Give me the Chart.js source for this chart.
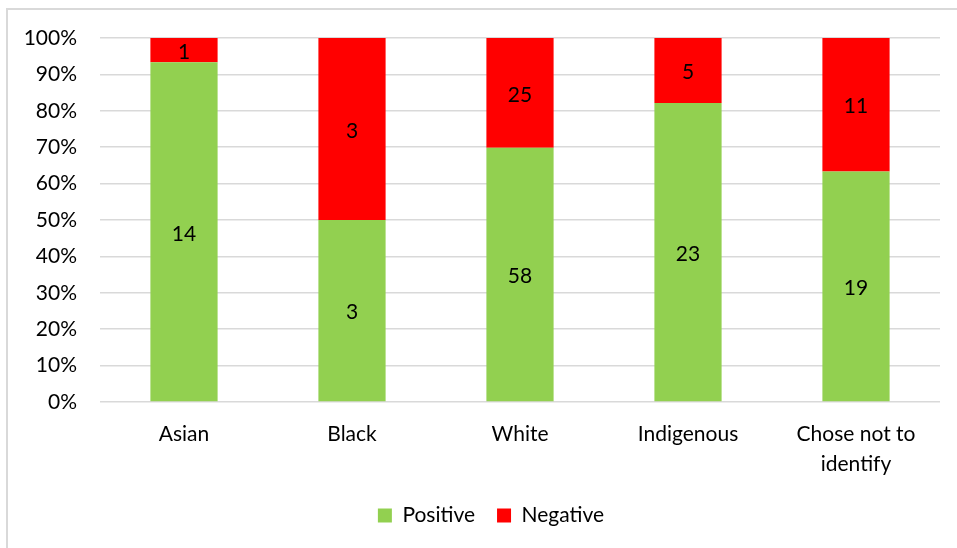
<!DOCTYPE html>
<html>
<head>
<meta charset="utf-8">
<title>Responses by ethnicity</title>
<script src="https://cdn.jsdelivr.net/npm/chart.js@4/dist/chart.umd.min.js"></script>
<style>
  html, body { margin: 0; padding: 0; background: #fff; overflow: hidden; }
  #frame {
    position: absolute; left: 6px; top: 8px; width: 1000px; height: 600px;
    border: 2px solid #d9d9d9; box-sizing: border-box;
  }
  #wrap { position: absolute; left: 0; top: 0; width: 957px; height: 548px; }
</style>
</head>
<body>
<div id="frame"></div>
<div id="wrap"><canvas id="chart" width="957" height="548"></canvas></div>
<script>
const groups = ['Asian', 'Black', 'White', 'Indigenous', ['Chose not to', 'identify']];
const positive = [14, 3, 58, 23, 19];
const negative = [1, 3, 25, 5, 11];
const yTicks = [0, 10, 20, 30, 40, 50, 60, 70, 80, 90, 100];

const green = '#92D050';
const red = '#FF0000';
const gridColor = '#d9d9d9';
const font = 'Lato';
const fontSize = 21;

// stacked to 100%: each bar is its share of the group total
const share = (part) => part.map((v, i) => (100 * v) / (positive[i] + negative[i]));

// print the raw counts in the middle of each segment
const countLabels = {
  id: 'countLabels',
  afterDatasetsDraw(chart) {
    const ctx = chart.ctx;
    ctx.save();
    ctx.fillStyle = '#000';
    ctx.font = fontSize + 'px ' + font;
    ctx.textAlign = 'center';
    ctx.textBaseline = 'middle';
    chart.data.datasets.forEach((ds, di) => {
      chart.getDatasetMeta(di).data.forEach((bar, i) => {
        const mid = (bar.y + bar.base) / 2;
        ctx.fillText(String(ds.counts[i]), bar.x, mid + 2);
      });
    });
    ctx.restore();
  }
};

// centre the legend under the plot area rather than the whole canvas
const legendShift = {
  id: 'legendShift',
  afterLayout(chart) {
    const lg = chart.legend;
    if (!lg) return;
    lg.left += 21;
    lg.right += 21;
    lg.adjustHitBoxes();
  }
};

new Chart(document.getElementById('chart'), {
  type: 'bar',
  data: {
    labels: groups,
    datasets: [
      { label: 'Positive', data: share(positive), counts: positive, backgroundColor: green },
      { label: 'Negative', data: share(negative), counts: negative, backgroundColor: red }
    ]
  },
  options: {
    responsive: false,
    animation: false,
    barPercentage: 0.4,
    categoryPercentage: 1,
    layout: { padding: { top: 38, right: 17, left: 0, bottom: 12 } },
    scales: {
      x: {
        stacked: true,
        grid: { display: false, drawTicks: false },
        border: { display: false },
        ticks: {
          color: '#000',
          font: { family: font, size: fontSize, lineHeight: 1.4 },
          padding: 18,
          maxRotation: 0
        },
        afterFit(scale) { scale.height = 81; }
      },
      y: {
        stacked: true,
        min: 0,
        max: 100,
        afterBuildTicks(scale) { scale.ticks = yTicks.map((v) => ({ value: v })); },
        grid: { color: gridColor, lineWidth: 1.5, drawTicks: false },
        border: { display: false },
        ticks: {
          color: '#000',
          font: { family: font, size: fontSize },
          padding: 23,
          callback: (v) => v + '%'
        },
        afterFit(scale) { scale.width = 100; }
      }
    },
    plugins: {
      legend: {
        position: 'bottom',
        labels: {
          color: '#000',
          font: { family: font, size: fontSize },
          boxWidth: 14,
          boxHeight: 14,
          padding: 22
        }
      },
      tooltip: { enabled: false }
    }
  },
  plugins: [countLabels, legendShift]
});
</script>
</body>
</html>
